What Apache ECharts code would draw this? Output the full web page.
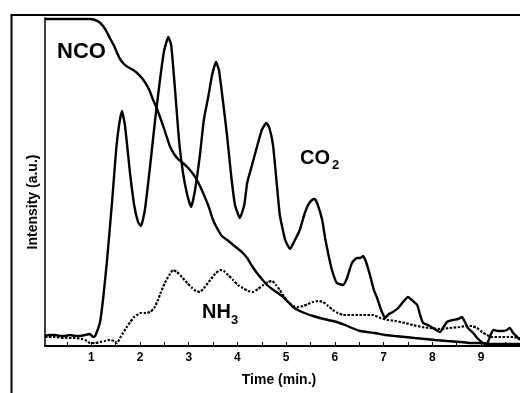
<!DOCTYPE html>
<html>
<head>
<meta charset="utf-8">
<script src="https://cdn.jsdelivr.net/npm/echarts@6/dist/echarts.min.js"></script>
<style>
html,body{margin:0;padding:0;background:#fff;}
#chart{width:520px;height:393px;}
</style>
</head>
<body>
<div id="chart"></div>
<script>
// Time (min.) vs intensity (a.u.)
const xLabelValues = [1, 2, 3, 4, 5, 6, 7, 8, 9];
const xTickValues = [0.5, 1, 1.5, 2, 2.5, 3, 3.5, 4, 4.5, 5, 5.5, 6, 6.5, 7, 7.5, 8, 8.5, 9, 9.5];

const co2 = [
  [0.05,10],[0.15,11],[0.26,11],[0.36,10],[0.46,10],[0.56,11],[0.67,10],[0.77,10],[0.87,11],[0.97,12],
  [1.04,9],[1.08,10],[1.18,24],[1.24,46],[1.32,84],[1.43,146],[1.51,196],[1.57,221],[1.63,235],[1.69,221],
  [1.80,171],[1.88,141],[1.96,124],[2.02,120],[2.10,136],[2.21,181],[2.31,226],[2.41,266],[2.49,294],[2.58,309],
  [2.64,301],[2.72,256],[2.80,206],[2.88,174],[2.97,151],[3.05,139],[3.13,156],[3.23,191],[3.31,226],[3.40,249],
  [3.48,271],[3.56,284],[3.62,276],[3.70,246],[3.79,209],[3.87,171],[3.95,141],[4.05,128],[4.14,141],[4.20,163],
  [4.30,181],[4.40,199],[4.50,216],[4.59,223],[4.65,219],[4.73,201],[4.81,161],[4.87,131],[4.98,106],[5.08,97],
  [5.18,106],[5.28,116],[5.37,131],[5.45,141],[5.53,146],[5.59,147],[5.65,141],[5.74,126],[5.80,108],[5.86,93],
  [5.94,76],[6.04,63],[6.17,61],[6.25,68],[6.35,83],[6.45,88],[6.52,88],[6.58,90],[6.64,84],[6.72,71],
  [6.80,56],[6.86,49],[6.95,36],[7.03,28],[7.11,32],[7.19,34],[7.30,38],[7.40,44],[7.50,49],[7.58,46],
  [7.69,41],[7.75,31],[7.81,23],[7.91,21],[8.01,18],[8.16,14],[8.22,18],[8.30,24],[8.42,26],[8.53,27],
  [8.61,29],[8.67,24],[8.73,18],[8.84,13],[8.92,8],[9.04,3],[9.12,2],[9.18,9],[9.25,16],[9.35,15],
  [9.45,15],[9.53,16],[9.59,18],[9.66,13],[9.74,9],[9.80,6]
];

const nco = [
  [0.05,327],[0.36,327],[0.67,327],[0.97,327],[1.08,326],[1.16,324],[1.24,320],[1.32,314],[1.38,308],[1.47,300],
  [1.53,293],[1.59,287],[1.67,282],[1.75,279],[1.86,276],[1.94,273],[2.02,269],[2.10,264],[2.19,256],[2.27,246],
  [2.35,237],[2.41,229],[2.49,218],[2.55,209],[2.62,199],[2.70,192],[2.78,187],[2.88,183],[2.99,178],[3.09,172],
  [3.17,166],[3.25,158],[3.33,149],[3.42,138],[3.50,126],[3.58,118],[3.68,110],[3.79,106],[3.89,102],[3.99,98],
  [4.09,94],[4.20,88],[4.30,80],[4.40,73],[4.50,67],[4.61,61],[4.71,57],[4.83,53],[4.94,49],[5.04,44],
  [5.14,39],[5.28,35],[5.43,32],[5.55,30],[5.69,28],[5.86,26],[6.04,24],[6.21,21],[6.35,18],[6.52,15],
  [6.66,14],[6.82,13],[7.03,11],[7.23,10],[7.44,9],[7.64,8],[7.85,7],[8.06,6],[8.30,5],[8.57,4],
  [8.77,3],[8.98,3],[9.18,2],[9.39,2],[9.59,2],[9.80,2]
];

const nh3 = [
  [0.05,9],[0.26,9],[0.46,8],[0.67,8],[0.81,7],[0.91,5],[0.97,3],[1.08,3],[1.18,4],[1.28,5],
  [1.38,6],[1.47,5],[1.53,3],[1.59,8],[1.65,13],[1.73,19],[1.80,24],[1.88,29],[1.94,31],[2.00,33],
  [2.10,33],[2.21,34],[2.29,38],[2.37,46],[2.43,54],[2.51,63],[2.60,71],[2.68,76],[2.76,74],[2.86,69],
  [2.97,63],[3.07,58],[3.15,55],[3.23,54],[3.33,59],[3.44,66],[3.54,72],[3.64,76],[3.72,75],[3.81,71],
  [3.91,66],[4.01,61],[4.11,58],[4.22,55],[4.32,54],[4.42,57],[4.53,61],[4.63,64],[4.71,65],[4.79,61],
  [4.87,56],[4.96,49],[5.04,44],[5.14,40],[5.24,39],[5.35,40],[5.45,42],[5.55,44],[5.65,45],[5.76,44],
  [5.86,40],[5.96,36],[6.06,33],[6.17,31],[6.31,31],[6.47,31],[6.64,31],[6.78,31],[6.93,28],[7.09,26],
  [7.25,25],[7.44,23],[7.60,21],[7.79,19],[7.95,18],[8.16,17],[8.36,18],[8.57,19],[8.71,20],[8.81,20],
  [8.92,18],[9.02,14],[9.12,11],[9.22,9],[9.39,9],[9.53,9],[9.66,9],[9.80,8]
];

const FONT = '"Liberation Sans", Arial, sans-serif';
const chart = echarts.init(document.getElementById('chart'), null, {renderer: 'canvas'});

const option = {
  backgroundColor: '#ffffff',
  animation: false,
  grid: {left: 45, top: 18, right: 0, bottom: 47, containLabel: false},
  xAxis: {
    type: 'value', min: 0.05, max: 9.8,
    axisLine: {show: true, onZero: false, lineStyle: {color: '#000', width: 2}},
    axisTick: {show: true, inside: true, length: 4, customValues: xTickValues, lineStyle: {color: '#000', width: 1}},
    axisLabel: {show: true, customValues: xLabelValues, color: '#000', fontWeight: 'bold', fontSize: 12, fontFamily: FONT, margin: 6},
    splitLine: {show: false}
  },
  yAxis: {
    type: 'value', min: 0, max: 328,
    axisLine: {show: true, onZero: false, lineStyle: {color: '#000', width: 1.5}},
    axisTick: {show: false},
    axisLabel: {show: false},
    splitLine: {show: false}
  },
  series: [
    {name: 'CO2', type: 'line', data: co2, showSymbol: false, smooth: 0.15,
     lineStyle: {color: '#000', width: 2.4}},
    {name: 'NCO', type: 'line', data: nco, showSymbol: false, smooth: 0.15,
     lineStyle: {color: '#000', width: 2.4}},
    {name: 'NH3', type: 'line', data: nh3, showSymbol: false, smooth: 0.15,
     lineStyle: {color: '#000', width: 2.2, type: [2.5, 1.5]}}
  ],
  graphic: [
    {type: 'rect', silent: true, z: -1, shape: {x: 11.5, y: 15, width: 700, height: 600},
     style: {fill: 'none', stroke: '#000', lineWidth: 2}},
    {type: 'text', silent: true, x: 57, y: 52,
     style: {text: 'NCO', font: 'bold 22px ' + FONT, fill: '#000', textAlign: 'left', textVerticalAlign: 'middle'}},
    {type: 'text', silent: true, x: 300, y: 158,
     style: {text: 'CO', font: 'bold 20px ' + FONT, fill: '#000', textAlign: 'left', textVerticalAlign: 'middle'}},
    {type: 'text', silent: true, x: 332, y: 165,
     style: {text: '2', font: 'bold 13px ' + FONT, fill: '#000', textAlign: 'left', textVerticalAlign: 'middle'}},
    {type: 'text', silent: true, x: 202, y: 312,
     style: {text: 'NH', font: 'bold 20px ' + FONT, fill: '#000', textAlign: 'left', textVerticalAlign: 'middle'}},
    {type: 'text', silent: true, x: 231, y: 320,
     style: {text: '3', font: 'bold 13px ' + FONT, fill: '#000', textAlign: 'left', textVerticalAlign: 'middle'}},
    {type: 'text', silent: true, x: 279, y: 380,
     style: {text: 'Time (min.)', font: 'bold 14px ' + FONT, fill: '#000', textAlign: 'center', textVerticalAlign: 'middle'}},
    {type: 'text', silent: true, x: 33, y: 202, rotation: Math.PI / 2,
     style: {text: 'Intensity (a.u.)', font: 'bold 14px ' + FONT, fill: '#000', textAlign: 'center', textVerticalAlign: 'middle'}}
  ]
};
chart.setOption(option);
</script>
</body>
</html>
